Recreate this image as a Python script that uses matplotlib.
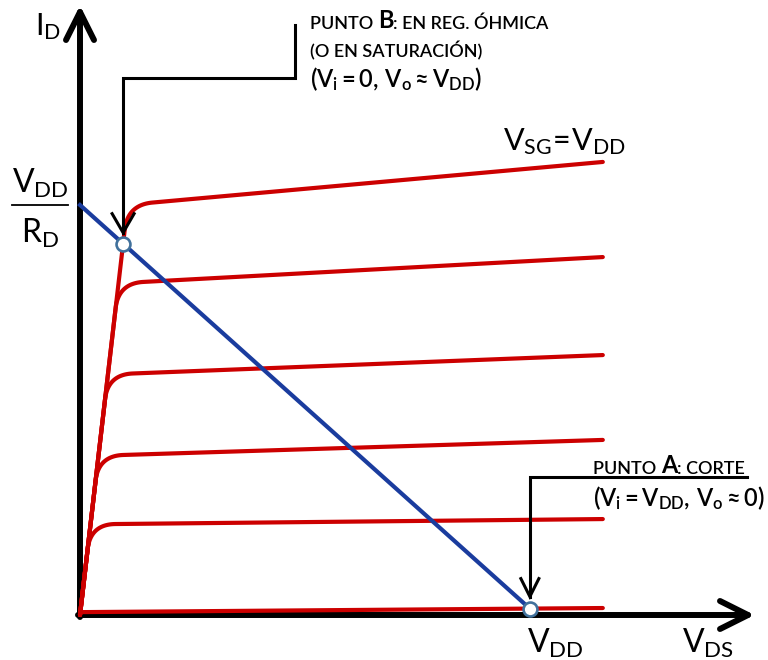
import numpy as np
import matplotlib.pyplot as plt

plt.rcParams['font.family'] = 'Lato'
plt.rcParams['mathtext.fontset'] = 'custom'
plt.rcParams['mathtext.rm'] = 'Lato'
plt.rcParams['mathtext.it'] = 'Lato:italic'
plt.rcParams['mathtext.bf'] = 'Lato:weight=semibold'

# circuit values: VDD = 10 V, RD = 1 kOhm -> VDD/RD = 10 mA
VDD = 10.0
RD = 1.0
g_ohm = 9.6       # slope of the ohmic-region line (mA/V)
v_end = 11.44     # V_DS where the output curves stop
i_start = [9.90, 8.04, 5.84, 3.87, 2.21, 0.07]   # saturation current extrapolated to V_DS = 0
i_end = [11.05, 8.73, 6.34, 4.27, 2.34, 0.17]    # current at v_end

# drawing scale (pixels per unit) and origin pixel
SX, SY = 45.7, 41.0
X0, Y0 = 80, 615
W, H = 768, 660

RED = '#CC0000'
BLUE = '#1A3C9E'
RING = '#41719C'


def px(dx, dy):
    """pixel offset -> data offset"""
    return dx / SX, dy / SY


def output_curve(i0, i1, r_px=25):
    """ohmic line from origin, rounded knee, then the saturation line"""
    s = (i1 - i0) / v_end
    vc = i0 / (g_ohm - s)
    ic = g_ohm * vc
    d1 = np.array([SX, g_ohm * SY]); d1 /= np.hypot(*d1)
    d2 = np.array([SX, s * SY]); d2 /= np.hypot(*d2)
    pc = np.array([vc * SX, ic * SY])
    t = min(r_px, 0.5 * np.hypot(*pc))
    p1 = pc - t * d1
    p2 = pc + t * d2
    u = np.linspace(0, 1, 40)[:, None]
    bez = (1 - u) ** 2 * p1 + 2 * (1 - u) * u * pc + u ** 2 * p2
    pts = np.vstack([[0, 0], bez, [v_end * SX, i1 * SY]])
    return pts[:, 0] / SX, pts[:, 1] / SY


def v_head(ax, tip, d, back, half, **kw):
    """open V arrow head; d = (dx, dy) unit direction in pixels"""
    dx, dy = d
    nx, ny = -dy, dx
    w1 = px(-dx * back + nx * half, -dy * back + ny * half)
    w2 = px(-dx * back - nx * half, -dy * back - ny * half)
    ax.plot([tip[0] + w1[0], tip[0], tip[0] + w2[0]],
            [tip[1] + w1[1], tip[1], tip[1] + w2[1]], **kw)


def chain_text(ax, x, y, parts):
    """write text pieces one after another on the same line"""
    t = ax.text(x, y, parts[0][0], fontsize=parts[0][1], family='Lato',
                fontweight=parts[0][2], va='bottom', ha='left')
    for s, fs, fw in parts[1:]:
        t = ax.annotate(s, xy=(1, 0), xycoords=t, va='bottom', ha='left',
                        fontsize=fs, fontweight=fw, family='Lato')


fig = plt.figure(figsize=(W / 100, H / 100), dpi=100)
ax = fig.add_axes([0, 0, 1, 1])
ax.set_xlim(-X0 / SX, (W - X0) / SX)
ax.set_ylim(-(H - Y0) / SY, Y0 / SY)
ax.axis('off')

# axes with open arrow heads
ax_kw = dict(color='black', lw=4.3, solid_capstyle='round', solid_joinstyle='round', zorder=2)
y_top = (Y0 - 12) / SY
x_tip = (748 - X0) / SX
ax.plot([0, 0], [-2 / SY, y_top], **ax_kw)
ax.plot([-2 / SX, x_tip], [0, 0], **ax_kw)
v_head(ax, (0, y_top), (0, 1), 28, 14, **ax_kw)
v_head(ax, (x_tip, 0), (1, 0), 28, 14, **ax_kw)

# output characteristics
for i0, i1 in zip(i_start, i_end):
    v, i = output_curve(i0, i1)
    ax.plot(v, i, color=RED, lw=3.0, solid_capstyle='round', zorder=3)

# load line
s_off = (i_end[-1] - i_start[-1]) / v_end
vA = (VDD / RD - i_start[-1]) / (1 / RD + s_off)
iA = i_start[-1] + s_off * vA
vB = (VDD / RD) / (g_ohm + 1 / RD)
iB = g_ohm * vB
ax.plot([0, vA], [VDD / RD, iA], color=BLUE, lw=3.0, zorder=4)
ax.plot([vB, vA], [iB, iA], 'o', ms=10, mfc='white', mec=RING, mew=1.9, zorder=6)

# callout arrows
ln_kw = dict(color='black', lw=2.2, solid_joinstyle='miter', zorder=5)
yB_top = (Y0 - 25) / SY
yB_mid = (Y0 - 78) / SY
xB_box = (295 - X0) / SX
tipB = iB + 11 / SY
ax.plot([xB_box, xB_box, vB, vB], [yB_top, yB_mid, yB_mid, tipB], **ln_kw)
v_head(ax, (vB, tipB), (0, -1), 19, 11, **ln_kw)

yA_mid = (Y0 - 477) / SY
xA_end = (747 - X0) / SX
tipA = iA + 12 / SY
ax.plot([xA_end, vA, vA], [yA_mid, yA_mid, tipA], **ln_kw)
v_head(ax, (vA, tipA), (0, -1), 18, 9, **ln_kw)

# fraction VDD / RD on the vertical axis
ax.plot([-68 / SX, -12 / SX], [VDD / RD, VDD / RD], color='black', lw=1.3)
ax.text(-40 / SX, (Y0 - 193) / SY, r'$\mathrm{V_{DD}}$', fontsize=23, ha='center', va='baseline')
ax.text(-40 / SX, (Y0 - 243) / SY, r'$\mathrm{R_{D}}$', fontsize=23, ha='center', va='baseline')

# axis labels
ax.text(-45 / SX, (Y0 - 35) / SY, r'$\mathrm{I_{D}}$', fontsize=22, ha='left', va='baseline')
ax.text((527 - X0) / SX, (Y0 - 653) / SY, r'$\mathrm{V_{DD}}$', fontsize=23, ha='left', va='baseline')
ax.text((682 - X0) / SX, (Y0 - 653) / SY, r'$\mathrm{V_{DS}}$', fontsize=23, ha='left', va='baseline')
ax.text((503 - X0) / SX, (Y0 - 150) / SY, r'$\mathrm{V_{SG}\!=\!V_{DD}}$', fontsize=22,
        ha='left', va='baseline')

# point B label
chain_text(ax, (310 - X0) / SX, (Y0 - 32) / SY,
           [('PUNTO ', 13, 'semibold'), ('B', 17, 'bold'),
            (': EN REG. ÓHMICA', 13, 'semibold')])
ax.text((310 - X0) / SX, (Y0 - 57) / SY, '(O EN SATURACIÓN)', fontsize=13, family='Lato',
        fontweight='semibold', ha='left', va='baseline')
ax.text((310 - X0) / SX, (Y0 - 87) / SY, r'$\mathbf{(V_i = 0,\, V_o \approx V_{DD})}$',
        fontsize=17, ha='left', va='baseline')

# point A label
chain_text(ax, (593 - X0) / SX, (Y0 - 477) / SY,
           [('PUNTO ', 13, 'semibold'), ('A', 17, 'bold'), (': CORTE', 13, 'semibold')])
ax.text((593 - X0) / SX, (Y0 - 506) / SY, r'$\mathbf{(V_i = V_{DD},\, V_o \approx 0)}$',
        fontsize=17, ha='left', va='baseline')

fig.savefig('out.png', dpi=100)
